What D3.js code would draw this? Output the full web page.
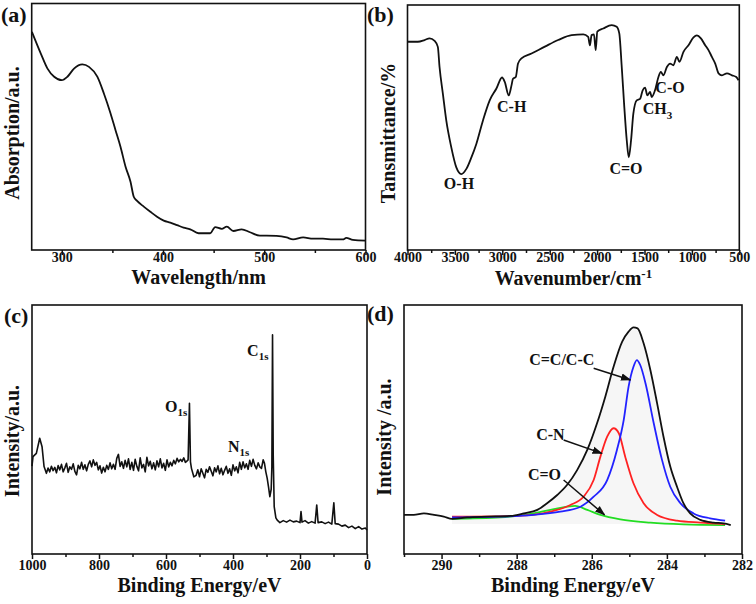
<!DOCTYPE html>
<html><head><meta charset="utf-8">
<script src="https://cdn.jsdelivr.net/npm/d3@7"></script>
<style>body{margin:0;background:#fff}</style>
</head><body>
<svg id="chart" width="756" height="604"></svg>
<script>
// ---------- DATA ----------
// (a) UV-vis absorption: [wavelength nm, absorption a.u.]
const uvSpectrum = [[270.5,88.5],[279.3,79.7],[285.9,73.6],[292.5,70.3],[300,68.9],[305.6,70.3],[312.1,73.6],[320.3,75.3],[326.9,74.3],[335.1,70.3],[341.6,63.5],[348.2,55.4],[353.1,48.6],[358,41.9],[363,33.8],[367.9,27.7],[371.1,21.6],[374.4,19.9],[381,17.6],[387.5,15.5],[394.1,13.5],[400.7,11.9],[407.2,11.1],[413.8,10.1],[420.3,9.1],[426.9,8.4],[435.1,6.8],[446.6,6.8],[451.5,9.3],[458,8.6],[463,9.5],[469.5,7.7],[477.7,8.4],[485.9,7.2],[495.7,5.8],[502.3,5.8],[512.1,5.7],[522,5.1],[528.5,4.3],[538.4,5.1],[548.2,4.6],[558,4.6],[567.9,4.3],[577.7,4.3],[581,4.9],[587.5,4.1],[600,3.8]];
const uvTicks = [300,400,500,600];
const uvMinor = [350,450,550];

// (b) FTIR: [wavenumber cm-1, transmittance %]
const ftirSpectrum = [[3997,85.0],[3891,85.0],[3820,85.7],[3767,86.4],[3714,85.4],[3680,82.9],[3662,74.7],[3627,63.8],[3591,52.9],[3538,41.9],[3485,33.7],[3432,31.0],[3379,33.1],[3326,37.8],[3274,43.3],[3204,52.9],[3133,61.1],[3062,65.9],[3003,70.4],[2974,68.6],[2932,63.1],[2903,67.2],[2887,69.9],[2858,70.6],[2834,76.1],[2798,78.2],[2692,80.2],[2551,83.0],[2411,85.7],[2269,87.7],[2146,88.0],[2094,87.0],[2076,83.5],[2058,87.7],[2033,88.0],[2015,81.6],[1998,89.1],[1935,90.4],[1846,91.8],[1793,91.1],[1766,88.4],[1740,74.7],[1713,58.3],[1687,44.7],[1666,37.8],[1642,44.7],[1618,55.6],[1582,61.1],[1547,61.7],[1519,65.2],[1494,66.3],[1470,63.1],[1441,64.5],[1424,62.4],[1389,65.2],[1353,70.6],[1328,72.7],[1300,71.3],[1264,74.7],[1230,76.1],[1195,75.4],[1159,78.8],[1131,76.8],[1089,80.9],[1036,83.6],[983,86.8],[947,87.6],[905,86.4],[860,83.6],[825,81.6],[789,78.8],[754,76.1],[719,72.1],[683,71.3],[630,72.1],[577,71.3],[532,70.6],[508,69.3]];
const ftirTicks = [4000,3500,3000,2500,2000,1500,1000,500];
const ftirMinor = [3750,3250,2750,2250,1750,1250,750];
const ftirLabels = [["O-H",3457,26.2],["C-H",2901,57.8],["C=O",1695,32.4],["C-O",1231,65.6]];

// (c) XPS survey: [binding energy eV, intensity a.u.]
const surveySpectrum = [[1000,35.3],[997,39.1],[987,40.4],[977,46.5],[970,43.1],[964,35.1],[957,32.4],
[952,34.5],[947,33.0],[942,35.2],[937,33.5],[932,34.8],[927,32.6],[922,35.5],[917,33.8],[912,36.0],[907,33.0],[902,34.6],[897,36.4],[892,32.8],[887,35.0],[882,34.0],[877,36.2],[872,33.2],[867,31.8],[862,35.6],[857,34.2],[852,36.8],[847,34.0],[842,35.8],[837,33.4],[832,36.0],[827,37.4],[822,35.0],[817,37.8],[812,35.6],[807,36.8],[802,33.8],[797,35.4],[792,32.5],[787,34.8],[782,33.0],[777,35.6],[772,34.0],[767,36.6],[762,34.2],[757,36.0],[752,34.0],[747,38.4],[742,40.0],[737,35.2],[732,37.0],[727,34.4],[722,37.6],[717,35.0],[712,38.2],[707,34.0],[702,36.8],[697,33.6],[692,38.0],[687,35.2],[682,33.4],[677,38.6],[672,34.6],[667,36.0],[662,33.0],[657,38.8],[652,35.4],[647,37.2],[642,34.2],[637,36.6],[632,33.8],[627,37.4],[622,35.0],[617,38.2],[612,34.6],[607,36.4],[602,33.6],[597,37.8],[592,35.0],[587,36.8],[582,35.4],[577,37.6],[572,36.2],[567,38.4],[562,37.0],[557,38.0],[552,37.2],[547,38.6],[542,36.8],[537,37.4],
[534,37.8],[530,60.5],[527,37.0],[524,34.4],[517,31.0],
[510,31.6],[505,33.8],[500,31.0],[495,34.2],[490,32.4],[485,30.6],[480,34.0],[475,32.8],[470,35.0],[465,33.2],[460,31.4],[455,34.6],[450,33.0],[445,35.4],[440,32.2],[435,34.4],[430,31.8],[425,33.6],[420,35.2],[415,32.4],[410,34.2],[405,31.6],[400,35.8],[395,33.4],[390,35.0],[385,32.6],[380,36.8],[375,34.0],[370,37.0],[365,34.6],[360,36.2],[355,34.0],[350,37.6],[345,35.2],[340,38.0],[335,35.6],[330,34.2],[325,36.6],[320,35.0],[315,34.4],[310,37.8],[306,36.4],
[302,33.0],[298,30.5],[294,27.0],[290,23.0],[286,26.0],[284,35.0],[282,88.0],[280,40.0],[277,19.0],[272,14.5],[268,13.6],[260,12.6],[250,13.4],[240,12.8],[230,13.6],[220,12.9],[210,13.2],[200,12.6],[197,17.0],[194,12.8],[185,13.4],[175,12.4],[165,13.0],[155,12.4],[150,19.7],[146,12.6],[135,12.9],[125,12.2],[115,12.8],[105,12.0],[99,20.6],[95,12.2],[85,12.0],[75,11.2],[65,11.6],[55,10.6],[45,11.2],[35,10.2],[25,11.0],[15,10.0],[5,10.4],[0,9.6]];
const surveyTicks = [1000,800,600,400,200,0];
const surveyMinor = [900,700,500,300,100];
const surveyLabels = [["C",358,81.1],["O",603,58.6],["N",415,42.6]];

// (d) C1s high resolution: [binding energy eV, intensity a.u.]
const c1sEnvelope = [[291.0,15.7],[290.74,15.7],[290.47,16.3],[290.2,15.7],[289.94,15.0],[289.72,14.1],[289.32,14.7],[288.78,15.0],[288.16,15.3],[287.81,16.3],[287.45,17.7],[287.19,20.4],[286.92,23.7],[286.66,27.7],[286.39,33.7],[286.12,41.8],[285.86,52.5],[285.64,63.2],[285.42,75.2],[285.19,85.3],[285.02,89.3],[284.89,91.0],[284.78,90.6],[284.62,84.6],[284.44,73.9],[284.26,60.5],[284.09,47.1],[283.91,35.1],[283.73,27.0],[283.56,20.4],[283.38,16.3],[283.11,13.7],[282.76,12.6],[282.49,12.3],[282.3,11.6]];
const c1sCC = [[289.72,14.7],[288.43,15.0],[287.55,15.7],[286.84,17.0],[286.30,19.0],[285.95,23.0],[285.59,29.7],[285.33,41.8],[285.15,53.8],[285.02,67.2],[284.89,75.2],[284.80,77.9],[284.71,75.9],[284.57,68.6],[284.35,52.5],[284.13,37.8],[283.91,27.0],[283.64,20.4],[283.29,16.3],[282.85,14.3],[282.45,13.4]];
const c1sCN = [[289.72,15.0],[287.99,15.3],[287.10,17.0],[286.57,19.7],[286.22,23.0],[285.95,29.7],[285.77,39.1],[285.59,47.1],[285.42,50.5],[285.28,48.5],[285.11,39.1],[284.89,28.4],[284.62,20.4],[284.26,15.7],[283.73,13.4],[283.11,12.6],[282.45,12.0]];
const c1sCO = [[289.72,14.1],[288.43,14.7],[287.55,16.3],[287.01,18.0],[286.66,19.0],[286.44,19.3],[286.12,17.7],[285.77,15.7],[285.24,13.9],[284.44,12.6],[283.56,11.9],[282.45,11.6]];
const c1sTicks = [290,288,286,284,282];
const c1sMinor = [291,289,287,285,283];
// annotation: [label, text x, text y, arrow from x,y, arrow to x,y]
const c1sLabels = [["C=C/C-C",286.8,77.2,285.95,74.6,284.97,69.9],["C-N",287.1,47.1,286.75,45.8,285.73,40.4],["C=O",287.26,31.0,286.75,29.7,285.66,15.7]];

// ---------- DRAWING ----------
const svg = d3.select("#chart");
const FONT = "'Liberation Serif','Times New Roman',serif";
svg.append("defs").append("marker").attr("id","arrow").attr("viewBox","0 0 10 10")
  .attr("refX",9).attr("refY",5).attr("markerWidth",7).attr("markerHeight",7).attr("orient","auto")
  .append("path").attr("d","M0,1.5L10,5L0,8.5Z").attr("fill","#111");

function panel(o){
  const g = svg.append("g");
  const x = d3.scaleLinear().domain(o.xDomain).range([o.x0,o.x1]);
  const y = d3.scaleLinear().domain([0,100]).range([o.y1,o.y0]);
  const major = d3.axisBottom(x).tickValues(o.ticks).tickSize(5).tickFormat(d3.format("d"));
  const ga = g.append("g").attr("transform",`translate(0,${o.y1})`).call(major);
  ga.select(".domain").remove();
  ga.selectAll("line").attr("stroke","#111").attr("stroke-width",1.5);
  ga.selectAll("text").attr("font-family",FONT).attr("font-weight","bold").attr("font-size",14).attr("fill","#111").attr("dy",0).attr("y",o.tickY-o.y1);
  const gm = g.append("g").attr("transform",`translate(0,${o.y1})`).call(d3.axisBottom(x).tickValues(o.minor).tickSize(3).tickFormat(""));
  gm.select(".domain").remove();
  gm.selectAll("line").attr("stroke","#111").attr("stroke-width",1.5);
  g.append("rect").attr("x",o.x0).attr("y",o.y0).attr("width",o.x1-o.x0).attr("height",o.y1-o.y0)
    .attr("fill","none").attr("stroke","#111").attr("stroke-width",1.6);
  const xt = g.append("text").attr("x",(o.x0+o.x1)/2+o.xTitleDx).attr("y",o.xTitleY).attr("text-anchor","middle")
    .attr("font-family",FONT).attr("font-weight","bold").attr("font-size",20).attr("fill","#111").text(o.xTitle);
  if(o.xSup) xt.append("tspan").attr("font-size",13).attr("dy",-7).text(o.xSup);
  g.append("text").attr("transform",`translate(${o.yTitleX},${o.yTitleCy}) rotate(-90)`).attr("text-anchor","middle")
    .attr("font-family",FONT).attr("font-weight","bold").attr("font-size",20).attr("fill","#111").text(o.yTitle);
  g.append("text").attr("x",o.tagX).attr("y",o.tagY).attr("font-family",FONT).attr("font-weight","bold")
    .attr("font-size",22).attr("fill","#111").text(o.tag);
  return {g,x,y};
}
function line(p, data, color, curve, w){
  p.g.append("path").datum(data).attr("fill","none").attr("stroke",color).attr("stroke-width",w||1.6)
    .attr("stroke-linejoin","round")
    .attr("d", d3.line().x(d=>p.x(d[0])).y(d=>p.y(d[1])).curve(curve||d3.curveLinear));
}
function label(p, t, xv, yv, anchor){
  return p.g.append("text").attr("x",p.x(xv)).attr("y",p.y(yv)).attr("text-anchor",anchor||"middle")
    .attr("dominant-baseline","middle").attr("font-family",FONT).attr("font-weight","bold")
    .attr("font-size",16).attr("fill","#111").text(t);
}

// (a)
const pa = panel({x0:31.7,x1:365.5,y0:3.5,y1:250,xDomain:[270.3,600],ticks:uvTicks,minor:uvMinor,tickY:262,
  xTitle:"Wavelength/nm",xTitleY:284,xTitleDx:0,yTitle:"Absorption/a.u.",yTitleX:19,yTitleCy:133,tag:"(a)",tagX:1,tagY:22});
line(pa, uvSpectrum, "#111", d3.curveMonotoneX, 1.8);

// (b)
const pb = panel({x0:407.5,x1:739.3,y0:5,y1:250,xDomain:[4000,500],ticks:ftirTicks,minor:ftirMinor,tickY:262,
  xTitle:"Wavenumber/cm",xSup:"-1",xTitleY:285,xTitleDx:0,yTitle:"Tansmittance/%",yTitleX:395,yTitleCy:133,tag:"(b)",tagX:367,tagY:22});
line(pb, ftirSpectrum, "#111", d3.curveMonotoneX, 1.8);
ftirLabels.forEach(l=>label(pb,l[0],l[1],l[2]));
const ch3 = label(pb,"CH",1519,57,"start");
ch3.append("tspan").attr("font-size",11).attr("dy",6).text("3");

// (c)
const pc = panel({x0:32,x1:367,y0:305,y1:554,xDomain:[1000,0],ticks:surveyTicks,minor:surveyMinor,tickY:570,
  xTitle:"Binding Energy/eV",xTitleY:592,xTitleDx:0,yTitle:"Intensity/a.u.",yTitleX:19,yTitleCy:441,tag:"(c)",tagX:4,tagY:323});
line(pc, surveySpectrum, "#111", d3.curveLinear, 1.6);
surveyLabels.forEach(l=>{
  const t = label(pc,l[0],l[1],l[2],"start");
  t.append("tspan").attr("font-size",11).attr("dy",5).text("1s");
});

// (d)
const pd = panel({x0:404,x1:742,y0:305,y1:554,xDomain:[291,282],ticks:c1sTicks,minor:c1sMinor,tickY:570,
  xTitle:"Binding Energy/eV",xTitleY:592,xTitleDx:0,yTitle:"Intensity /a.u.",yTitleX:391,yTitleCy:437,tag:"(d)",tagX:367,tagY:321});
pd.g.insert("path",":first-child").datum(c1sEnvelope.filter(d=>d[0]<=289.72)).attr("fill","#f6f6f6")
  .attr("d", d3.area().x(d=>pd.x(d[0])).y0(pd.y(12)).y1(d=>pd.y(d[1])).curve(d3.curveMonotoneX));
line(pd, c1sCO, "#22dd22", d3.curveMonotoneX, 1.8);
line(pd, c1sCN, "#ff2222", d3.curveMonotoneX, 1.8);
line(pd, c1sCC, "#2222ff", d3.curveMonotoneX, 1.8);
line(pd, c1sEnvelope, "#111", d3.curveMonotoneX, 1.8);
c1sLabels.forEach(l=>{
  label(pd,l[0],l[1],l[2]);
  pd.g.append("line").attr("x1",pd.x(l[3])).attr("y1",pd.y(l[4])).attr("x2",pd.x(l[5])).attr("y2",pd.y(l[6]))
    .attr("stroke","#111").attr("stroke-width",1.5).attr("marker-end","url(#arrow)");
});
</script>
</body></html>
